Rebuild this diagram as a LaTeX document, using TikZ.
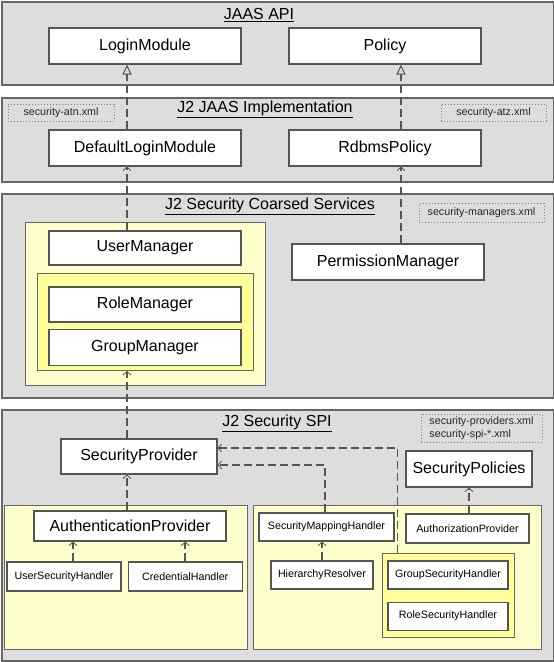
\documentclass[tikz,border=0pt]{standalone}
\usepackage{fontspec}
\setmainfont{Liberation Sans}
\usetikzlibrary{arrows.meta,positioning}
\definecolor{layergray}{RGB}{221,221,221}
\definecolor{edgegray}{RGB}{102,102,102}
\definecolor{paleyellow}{RGB}{255,255,204}
\definecolor{brightyellow}{RGB}{255,255,153}
\definecolor{linegray}{RGB}{85,85,85}

\begin{document}
\begin{tikzpicture}[
  x=1pt,y=-1pt,
  font=\fontsize{16}{19}\selectfont,
  layer/.style={draw=edgegray,line width=1.5pt,fill=layergray,
                anchor=north west,inner sep=0pt},
  pane/.style={draw=edgegray,line width=1pt,fill=paleyellow,
               anchor=north west,inner sep=0pt},
  hotpane/.style={pane,fill=brightyellow},
  box/.style={draw=linegray,line width=1.2pt,fill=white,
              minimum width=192,minimum height=36,inner sep=0pt},
  smallbox/.style={box,font=\fontsize{10.7}{13}\selectfont,minimum height=29},
  note/.style={draw=gray,dotted,line width=1pt,inner sep=2pt,
               font=\fontsize{10.7}{13}\selectfont,text=black!85},
  title/.style={font=\fontsize{16}{19}\selectfont},
  dep/.style={draw=linegray,line width=1.5pt,dash pattern=on 8pt off 4pt,
              -{Straight Barb[length=3.5pt,width=8pt,line width=0.8pt]}},
  impl/.style={dep,-{Triangle[open,length=10pt,width=9pt,line width=1pt]}},
  node distance=6pt and 6pt
]
\useasboundingbox (0,0) rectangle (554,662);

% JAAS API
\node[layer,minimum width=552,minimum height=83](api) at (1,1) {};
\node[title](apititle) at (259,15) {\underline{JAAS API}};
\node[box](lm) at (145,46) {LoginModule};
\node[box](pol) at (385,46) {Policy};

% J2 JAAS Implementation
\node[layer,minimum width=552,minimum height=84](jaasimpl) at (1,97) {};
\node[title](impltitle) at (265,109) {\underline{J2 JAAS Implementation}};
\node[note,minimum width=106,minimum height=17](atn) at (61,112.5) {security-atn.xml};
\node[note,minimum width=105,minimum height=17](atz) at (493.5,112.5) {security-atz.xml};
\node[box](dlm) at (145,148) {DefaultLoginModule};
\node[box](rdb) at (385,148) {RdbmsPolicy};

% J2 Security Coarsed Services
\node[layer,minimum width=552,minimum height=204](coarse) at (1,193) {};
\node[title](coarsetitle) at (270,206) {\underline{J2 Security Coarsed Services}};
\node[note,minimum width=125,minimum height=19](mgrs) at (481.5,213) {security-managers.xml};
\node[pane,minimum width=240,minimum height=163](mgrpane) at (25,222) {};
\node[box,minimum height=34](um) at (145,248) {UserManager};
\node[hotpane,minimum width=216,minimum height=97](rgpane) at (37,273) {};
\node[box,minimum height=35](rm) at (145,304.5) {RoleManager};
\node[box,below=of rm](gm) {GroupManager};
\node[box](pm) at (388,262) {PermissionManager};

% J2 Security SPI
\node[layer,minimum width=552,minimum height=251](spi) at (1,409) {};
\node[title](spititle) at (277,423) {\underline{J2 Security SPI}};
\node[note,minimum width=121,minimum height=28,align=left](spinote) at (481.5,428)
  {security-providers.xml\\security-spi-*.xml};
\node[box,minimum width=156,minimum height=35](sp) at (139,456.5) {SecurityProvider};
\node[box,minimum width=126](spol) at (469,469) {SecurityPolicies};
\node[pane,minimum width=243,minimum height=144](authnpane) at (4,505) {};
\node[pane,minimum width=288,minimum height=144](authzpane) at (253,505) {};
\node[box,minimum height=30](authn) at (130,526) {AuthenticationProvider};
\node[smallbox,minimum width=114](ush) at (64,576.5) {UserSecurityHandler};
\node[smallbox,minimum width=114,right=of ush](ch) {CredentialHandler};
\node[smallbox,minimum width=135,minimum height=28](smh) at (326.5,527) {SecurityMappingHandler};
\node[smallbox,minimum width=102,minimum height=28](hr) at (322,575) {HierarchyResolver};
\node[smallbox,minimum width=123](authz) at (467.5,528.5) {AuthorizationProvider};
\node[hotpane,minimum width=132,minimum height=84](grppane) at (382,553) {};
\node[smallbox,minimum width=120,minimum height=28](gsh) at (448,575) {GroupSecurityHandler};
\node[smallbox,minimum width=120,minimum height=28,below=12pt of gsh](rsh) {RoleSecurityHandler};

% connectors
\coordinate (lx) at (127,0);
\coordinate (rx) at (401,0);
\draw[impl](dlm.north -| lx)--(lm.south -| lx);
\draw[impl](rdb.north -| rx)--(pol.south -| rx);
\draw[dep](um.north -| lx)--(dlm.south -| lx);
\draw[dep](pm.north -| rx)--(rdb.south -| rx);
\draw[dep](sp.north -| lx)--(rgpane.south -| lx);
\draw[dep](authn.north -| lx)--(sp.south -| lx);
\draw[dep]([xshift=9pt]ush.north)--([xshift=9pt]ush.north |- authn.south);
\draw[dep](ch.north)--(ch.north |- authn.south);
\draw[dep](hr.north)--(hr.north |- smh.south);
\draw[dep]([xshift=-1.5pt]smh.north)|-([yshift=-8.5pt]sp.east);
\draw[dep]([xshift=-51pt]grppane.north)|-([yshift=8.5pt]sp.east);
\draw[dep](authz.north -| spol.south)--(spol.south);
\end{tikzpicture}
\end{document}
